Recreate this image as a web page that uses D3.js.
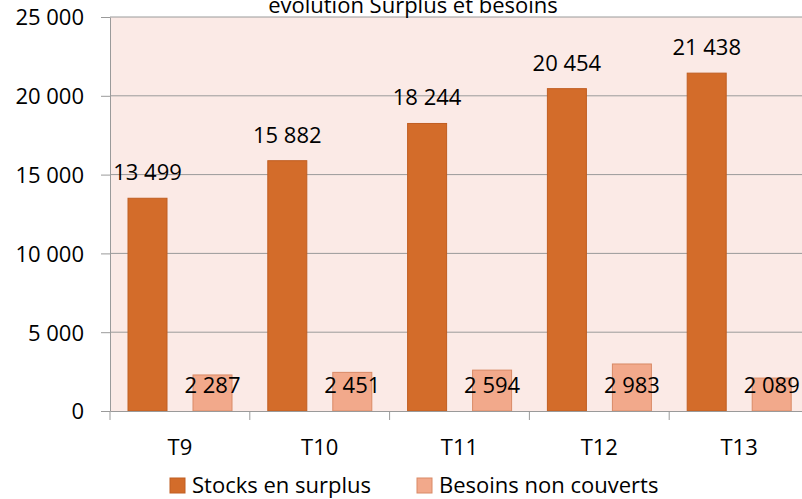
<!DOCTYPE html>
<html lang="fr">
<head>
<meta charset="UTF-8">
<title>évolution Surplus et besoins</title>
<script src="https://cdn.jsdelivr.net/npm/d3@7"></script>
<style>
    body { margin: 0; background: #fff; }
    svg text { font-family: "Open Sans", sans-serif; fill: #000; }
</style>
</head>
<body>
<div id="chart"></div>
<script>
    // data
    var categories = ["T9", "T10", "T11", "T12", "T13"];
    var surplus = [13499, 15882, 18244, 20454, 21438];
    var besoins = [2287, 2451, 2594, 2983, 2089];
    var seriesNames = ["Stocks en surplus", "Besoins non couverts"];
    var yTicks = [0, 5000, 10000, 15000, 20000, 25000];

    var width = 802, height = 499;
    var plotLeft = 110, plotRight = 809, plotTop = 17, plotBottom = 411;

    var colors = { fill: ["#d36c2a", "#f2a98b"], stroke: ["#c05e22", "#d98a66"] };
    var fmt = function (v) { return d3.format(",")(v).replace(/,/g, " "); };

    var svg = d3.select("#chart").append("svg")
        .attr("width", width)
        .attr("height", height);

    var x = d3.scaleBand().domain(categories).range([plotLeft, plotRight]);
    var xSub = d3.scaleBand().domain([0, 1]).range([18, 122]).paddingInner(0.4);
    var y = d3.scaleLinear().domain([0, 25000]).range([plotBottom, plotTop]);

    // plot background
    svg.append("rect")
        .attr("x", plotLeft).attr("y", plotTop)
        .attr("width", plotRight - plotLeft).attr("height", plotBottom - plotTop)
        .attr("fill", "#fbeae6");

    // gridlines
    svg.append("g").selectAll("line")
        .data(yTicks.filter(function (t) { return t > 0; }))
        .enter().append("line")
        .attr("x1", plotLeft).attr("x2", plotRight)
        .attr("y1", function (d) { return y(d); })
        .attr("y2", function (d) { return y(d); })
        .attr("stroke", "#9a9a9a");

    // y axis
    var yAxis = svg.append("g")
        .attr("transform", "translate(" + plotLeft + ",0)")
        .call(d3.axisLeft(y).tickValues(yTicks).tickSize(9).tickSizeOuter(0).tickPadding(17).tickFormat(fmt));
    yAxis.select(".domain").attr("stroke", "#9a9a9a");
    yAxis.selectAll(".tick line").attr("stroke", "#9a9a9a");
    yAxis.selectAll(".tick text").style("font-size", "22px").attr("dy", "0.36em");

    // bars
    var data = categories.map(function (c, i) { return { cat: c, vals: [surplus[i], besoins[i]] }; });
    var groups = svg.append("g").selectAll("g")
        .data(data)
        .enter().append("g")
        .attr("transform", function (d) { return "translate(" + x(d.cat) + ",0)"; });

    groups.selectAll("rect")
        .data(function (d) { return d.vals.map(function (v, k) { return { k: k, v: v }; }); })
        .enter().append("rect")
        .attr("x", function (d) { return xSub(d.k); })
        .attr("width", xSub.bandwidth())
        .attr("y", function (d) { return y(d.v); })
        .attr("height", function (d) { return plotBottom - y(d.v); })
        .attr("fill", function (d) { return colors.fill[d.k]; })
        .attr("stroke", function (d) { return colors.stroke[d.k]; });

    // value labels
    groups.selectAll("text.val")
        .data(function (d) { return d.vals.map(function (v, k) { return { k: k, v: v }; }); })
        .enter().append("text")
        .attr("class", "val")
        .attr("x", function (d) { return xSub(d.k) + xSub.bandwidth() / 2; })
        .attr("y", function (d) { return d.k === 0 ? y(d.v) - 18 : y(0) - 18; })
        .attr("text-anchor", "middle")
        .style("font-size", "22px")
        .text(function (d) { return fmt(d.v); });

    // x axis
    var xAxis = svg.append("g")
        .attr("transform", "translate(0," + plotBottom + ")")
        .call(d3.axisBottom(x).tickSize(0).tickPadding(28));
    xAxis.select(".domain").attr("stroke", "#9a9a9a");
    xAxis.selectAll(".tick text").style("font-size", "22px");

    svg.append("g").selectAll("line")
        .data(categories.concat(["end"]))
        .enter().append("line")
        .attr("x1", function (d, i) { return plotLeft + i * x.step(); })
        .attr("x2", function (d, i) { return plotLeft + i * x.step(); })
        .attr("y1", plotBottom).attr("y2", plotBottom + 9)
        .attr("stroke", "#9a9a9a");

    // title (cut off at the top edge, as in the original)
    svg.append("text")
        .attr("x", 413).attr("y", 13)
        .attr("text-anchor", "middle")
        .style("font-size", "22px")
        .text("évolution Surplus et besoins");

    // legend
    var legendX = [170, 417];
    var legend = svg.append("g").selectAll("g")
        .data(seriesNames)
        .enter().append("g")
        .attr("transform", function (d, i) { return "translate(" + legendX[i] + ",478)"; });
    legend.append("rect")
        .attr("width", 15).attr("height", 15)
        .attr("fill", function (d, i) { return colors.fill[i]; })
        .attr("stroke", function (d, i) { return colors.stroke[i]; });
    legend.append("text")
        .attr("x", 22).attr("y", 15)
        .style("font-size", "22px")
        .text(function (d) { return d; });
</script>
</body>
</html>
